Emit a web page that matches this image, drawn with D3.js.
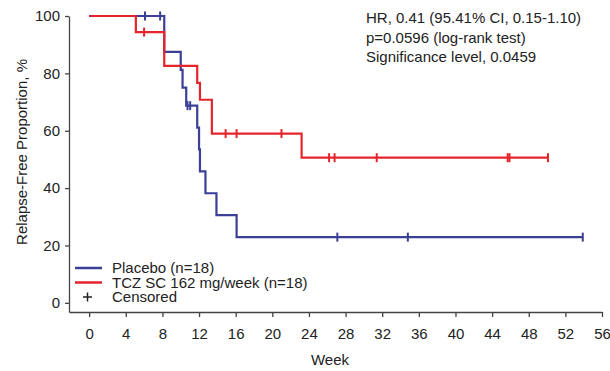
<!DOCTYPE html>
<html>
<head>
<meta charset="utf-8">
<script src="https://cdn.jsdelivr.net/npm/d3@7"></script>
<style>
  body { margin: 0; background: #fff; }
  svg text { font-family: "Liberation Sans", Arial, sans-serif; fill: #222; }
</style>
</head>
<body>
<svg id="chart" width="610" height="371"></svg>
<script>
// Kaplan-Meier steps: [week, relapse-free %]
const placeboSteps = [[0,100],[8.2,87.5],[10.0,81.25],[10.2,75.0],[10.6,68.75],[11.8,61.1],[12.0,53.5],[12.1,45.8],[12.7,38.2],[13.9,30.6],[16.1,22.9],[53.9,22.9]];
const tczSteps     = [[0,100],[5.1,94.4],[8.2,82.6],[11.8,76.7],[12.1,70.8],[13.4,59.0],[23.2,50.6],[50.1,50.6]];

// censored observations: [week, %]
const placeboCens = [[6.1,100],[7.75,100],[10.74,68.75],[11.03,68.75],[27.1,22.9],[34.8,22.9],[53.9,22.9]];
const tczCens     = [[6.0,94.4],[14.9,59.0],[16.1,59.0],[21.0,59.0],[26.2,50.6],[26.8,50.6],[31.4,50.6],[45.7,50.6],[45.9,50.6],[50.1,50.6]];

const xTicks = d3.range(0, 57, 4);
const yTicks = [0, 20, 40, 60, 80, 100];

const annotation = ["HR, 0.41 (95.41% CI, 0.15-1.10)", "p=0.0596 (log-rank test)", "Significance level, 0.0459"];
const series = [
  {name: "Placebo (n=18)", color: "#3b3f96", steps: placeboSteps, cens: placeboCens},
  {name: "TCZ SC 162 mg/week (n=18)", color: "#e5252c", steps: tczSteps, cens: tczCens}
];

const svg = d3.select('#chart');
const x = d3.scaleLinear().domain([-2.2, 56]).range([69, 602]);
const y = d3.scaleLinear().domain([-3.2, 100]).range([312, 16]);

const axisColor = '#444';

const gx = svg.append('g').attr('transform', 'translate(0,312)')
  .call(d3.axisBottom(x).tickValues(xTicks).tickSize(5).tickPadding(11).tickSizeOuter(0));
const gy = svg.append('g').attr('transform', 'translate(69,0)')
  .call(d3.axisLeft(y).tickValues(yTicks).tickSize(4).tickPadding(5).tickSizeOuter(0));

[gx, gy].forEach(g => {
  g.select('.domain').attr('stroke', axisColor).attr('stroke-width', 1.3);
  g.selectAll('.tick line').attr('stroke', axisColor).attr('stroke-width', 1.3);
  g.selectAll('.tick text').attr('font-size', 15).attr('fill', '#222')
    .style('font-family', '"Liberation Sans", Arial, sans-serif');
});

svg.append('text').attr('x', 330).attr('y', 365).attr('text-anchor', 'middle')
  .attr('font-size', 15).text('Week');
svg.append('text').attr('transform', 'translate(27,152) rotate(-90)')
  .attr('text-anchor', 'middle').attr('font-size', 15).text('Relapse-Free Proportion, %');

const line = d3.line().x(d => x(d[0])).y(d => y(d[1])).curve(d3.curveStepAfter);

series.forEach(s => {
  svg.append('path').datum(s.steps)
    .attr('d', line).attr('fill', 'none')
    .attr('stroke', s.color).attr('stroke-width', 2.2);
  svg.append('g').selectAll('line').data(s.cens).join('line')
    .attr('x1', d => x(d[0])).attr('x2', d => x(d[0]))
    .attr('y1', d => y(d[1]) - 4.5).attr('y2', d => y(d[1]) + 4.5)
    .attr('stroke', s.color).attr('stroke-width', 2);
});

// annotation
svg.append('g').selectAll('text').data(annotation).join('text')
  .attr('x', 366).attr('y', (d, i) => 23 + i * 19.5)
  .attr('font-size', 15).text(d => d);

// legend
const lg = svg.append('g');
series.forEach((s, i) => {
  const ly = 268 + i * 14.5;
  lg.append('line').attr('x1', 75).attr('x2', 102).attr('y1', ly).attr('y2', ly)
    .attr('stroke', s.color).attr('stroke-width', 2.5);
  lg.append('text').attr('x', 112).attr('y', ly).attr('dy', '0.35em')
    .attr('font-size', 15).text(s.name);
});
const cy = 297;
lg.append('path').attr('d', `M83,${cy}h9M87.5,${cy-4.5}v9`).attr('stroke', '#222').attr('stroke-width', 1.5);
lg.append('text').attr('x', 112).attr('y', cy).attr('dy', '0.35em').attr('font-size', 15).text('Censored');
</script>
</body>
</html>
